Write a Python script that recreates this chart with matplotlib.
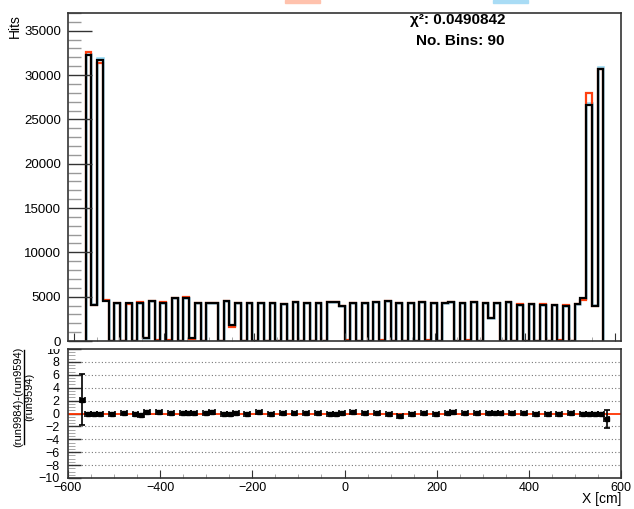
import matplotlib
matplotlib.use("Agg")
import matplotlib.pyplot as plt
import numpy as np
from matplotlib.patches import Rectangle
from matplotlib.transforms import Bbox

plt.rcParams["font.family"] = ["Liberation Sans", "DejaVu Sans"]

# 90 bins between -575 and 575 cm
n_bins = 90
x_low = -575.0
x_high = 575.0

hits_black = [
    32300, 4070, 31650, 4550, 0, 4250, 0, 4330, 0, 4330,
    300, 4520, 0, 4330, 0, 4820, 0, 4890, 380, 4330,
    0, 4330, 4330, 0, 4520, 1800, 4330, 0, 4330, 0,
    4320, 0, 4270, 0, 4220, 0, 4370, 0, 4320, 0,
    4270, 0, 4370, 4370, 3970, 0, 4320, 0, 4270, 0,
    4370, 0, 4480, 0, 4320, 0, 4270, 0, 4370, 0,
    4320, 0, 4270, 4370, 0, 4320, 0, 4370, 0, 4320,
    2640, 4320, 0, 4370, 0, 4070, 0, 4170, 0, 4070,
    0, 4070, 0, 3920, 0, 4170, 4820, 26650, 3990, 30680,
]

hits_red = [
    32550, 4020, 31350, 4570, 0, 4330, 0, 4140, 0, 4400,
    350, 4520, 150, 4380, 120, 4820, 0, 4920, 250, 4330,
    0, 4330, 4330, 0, 4520, 1545, 4330, 0, 4330, 0,
    4320, 0, 4270, 0, 4220, 0, 4370, 0, 4320, 0,
    4270, 0, 4370, 4370, 3970, 150, 4320, 0, 4270, 0,
    4370, 150, 4480, 0, 4320, 0, 4270, 0, 4370, 150,
    4320, 0, 4270, 4370, 0, 4320, 150, 4370, 0, 4320,
    2640, 4320, 0, 4370, 0, 4170, 0, 4170, 0, 4170,
    0, 4070, 150, 4020, 0, 4170, 4630, 28030, 3990, 30720,
]

hits_blue = [
    32400, 4120, 31900, 4570, 0, 4270, 0, 4330, 0, 4330,
    300, 4520, 0, 4330, 0, 4840, 0, 4890, 380, 4330,
    0, 4330, 4330, 0, 4520, 1820, 4330, 0, 4330, 0,
    4320, 0, 4270, 0, 4220, 0, 4370, 0, 4320, 0,
    4270, 0, 4370, 4370, 3970, 0, 4320, 0, 4270, 0,
    4370, 0, 4480, 0, 4320, 0, 4270, 0, 4370, 0,
    4320, 0, 4270, 4370, 0, 4320, 0, 4370, 0, 4320,
    2640, 4320, 0, 4370, 0, 4070, 0, 4170, 0, 4070,
    0, 4070, 0, 3920, 0, 4170, 4820, 26800, 4050, 30860,
]

# ratio (run9984-run9594)/run9594, NaN where undefined
ratio_vals = [
    2.1, 0.0, 0.0, 0.0, np.nan, 0.0, np.nan, 0.05, np.nan, 0.0,
    -0.2, 0.3, np.nan, 0.3, np.nan, 0.1, np.nan, 0.1, 0.1, 0.1,
    np.nan, 0.1, 0.3, np.nan, 0.0, 0.0, 0.15, np.nan, 0.0, np.nan,
    0.2, np.nan, 0.0, np.nan, 0.05, np.nan, 0.05, np.nan, 0.1, np.nan,
    0.1, np.nan, 0.0, 0.0, 0.1, np.nan, 0.2, np.nan, 0.15, np.nan,
    0.1, np.nan, -0.15, np.nan, -0.35, np.nan, 0.0, np.nan, 0.05, np.nan,
    0.0, np.nan, 0.05, 0.2, np.nan, 0.05, np.nan, 0.1, np.nan, 0.1,
    0.05, 0.1, np.nan, 0.15, np.nan, 0.05, np.nan, 0.0, np.nan, 0.0,
    np.nan, 0.0, np.nan, 0.05, np.nan, 0.0, 0.0, 0.0, 0.0, -0.9,
]
ratio_errs = [
    3.95, 0.05, 0.05, 0.05, np.nan, 0.05, np.nan, 0.05, np.nan, 0.05,
    0.2, 0.05, np.nan, 0.05, np.nan, 0.05, np.nan, 0.05, 0.1, 0.05,
    np.nan, 0.05, 0.05, np.nan, 0.05, 0.1, 0.05, np.nan, 0.05, np.nan,
    0.05, np.nan, 0.05, np.nan, 0.05, np.nan, 0.05, np.nan, 0.05, np.nan,
    0.05, np.nan, 0.05, 0.05, 0.05, np.nan, 0.05, np.nan, 0.05, np.nan,
    0.05, np.nan, 0.1, np.nan, 0.15, np.nan, 0.05, np.nan, 0.05, np.nan,
    0.05, np.nan, 0.05, 0.05, np.nan, 0.05, np.nan, 0.05, np.nan, 0.05,
    0.1, 0.05, np.nan, 0.05, np.nan, 0.05, np.nan, 0.05, np.nan, 0.05,
    np.nan, 0.05, np.nan, 0.05, np.nan, 0.05, 0.05, 0.05, 0.05, 1.4,
]

chi2_text = "\u03c7\u00b2: 0.0490842"
bins_text = "No. Bins: 90"

edges = np.linspace(x_low, x_high, n_bins + 1)
centers = 0.5 * (edges[:-1] + edges[1:])
half_w = 0.5 * (edges[1] - edges[0])

W, H = 634, 509
fig = plt.figure(figsize=(W / 100, H / 100), dpi=100)

main_ax = fig.add_axes([68 / W, 1 - 341 / H, 553 / W, 328 / H])
ratio_ax = fig.add_axes([68 / W, 1 - 478 / H, 553 / W, 129 / H])

frame_col = "#333333"

# main pad
main_ax.stairs(hits_blue, edges, baseline=0, color="#8fd6f2", linewidth=1.8)
main_ax.stairs(hits_red, edges, baseline=0, color="#ff4010", linewidth=1.6)
main_ax.stairs(hits_black, edges, baseline=0, color="black", linewidth=1.6)

main_ax.set_xlim(-614, 614)
main_ax.set_ylim(0, 37000)
main_ax.set_yticks(np.arange(0, 35001, 5000))
main_ax.set_yticks(np.arange(0, 37001, 1000), minor=True)
main_ax.set_xticks(np.arange(-600, 601, 200))
main_ax.set_xticks(np.arange(-600, 601, 50), minor=True)
main_ax.tick_params(axis="both", which="both", direction="in", labelsize=9.5,
                    top=False, right=False, color=frame_col)
main_ax.tick_params(axis="y", which="major", length=17, width=1)
main_ax.tick_params(axis="y", which="minor", length=9, width=1, color="#999999")
main_ax.tick_params(axis="x", which="major", length=6)
main_ax.tick_params(axis="x", which="minor", length=3, color="#999999")
main_ax.tick_params(axis="x", labelbottom=False)
main_ax.tick_params(axis="y", pad=5)
for sp in main_ax.spines.values():
    sp.set_color(frame_col)
    sp.set_linewidth(1.2)

fig.text(15 / W, 1 - 14 / H, "Hits", rotation=90, ha="center", va="top",
         fontsize=10)

fig.text(505 / W, 1 - 20 / H, chi2_text, ha="right", va="center",
         fontsize=11, fontweight="bold")
fig.text(505 / W, 1 - 41 / H, bins_text, ha="right", va="center",
         fontsize=11, fontweight="bold")

# legend markers peeking from above
fig.patches.append(Rectangle((285 / W, 1 - 3 / H), 35 / W, 3 / H,
                             transform=fig.transFigure, color="#ffc2ad"))
fig.patches.append(Rectangle((493 / W, 1 - 3 / H), 35 / W, 3 / H,
                             transform=fig.transFigure, color="#a9dcf5"))

# ratio pad
ratio_ax.axhline(0, color="#ff3300", linewidth=1.3, zorder=2)
for yv in np.arange(-8, 9, 2):
    if yv == 0:
        continue
    ratio_ax.axhline(yv, color="#777777", linestyle=(0, (1, 2)),
                     linewidth=0.8, zorder=1)

r = np.array(ratio_vals, dtype=float)
e = np.array(ratio_errs, dtype=float)
ok = ~np.isnan(r)
ratio_ax.errorbar(centers[ok], r[ok], xerr=half_w, yerr=e[ok], fmt="s",
                  color="black", markersize=2.5, elinewidth=1.2, capsize=2,
                  capthick=1.2, zorder=3)

ratio_ax.set_xlim(-600, 600)
ratio_ax.set_ylim(-10, 10)
ratio_ax.set_yticks(np.arange(-10, 11, 2))
ratio_ax.set_yticks(np.arange(-10, 10.1, 0.5), minor=True)
ratio_ax.set_xticks(np.arange(-600, 601, 200))
ratio_ax.set_xticks(np.arange(-600, 601, 50), minor=True)
ratio_ax.tick_params(axis="both", which="both", direction="in", labelsize=9,
                     top=False, right=False, color=frame_col)
ratio_ax.tick_params(axis="y", which="major", length=9, width=1)
ratio_ax.tick_params(axis="y", which="minor", length=5, color="#999999")
ratio_ax.tick_params(axis="x", which="major", length=6)
ratio_ax.tick_params(axis="x", which="minor", length=3, color="#999999")
ratio_ax.tick_params(axis="y", pad=6)
ratio_ax.tick_params(axis="x", pad=3)
ratio_ax.set_yticklabels([str(v).replace("-", "\u2212") for v in range(-10, 11, 2)])
for sp in ratio_ax.spines.values():
    sp.set_color(frame_col)
    sp.set_linewidth(1.2)

# top label of the ratio pad is cut by the pad edge
clip = Bbox.from_extents(0, 0, W, H - 349)
for lab in ratio_ax.get_yticklabels():
    lab.set_clip_box(clip)
    lab.set_clip_on(True)

fig.text(621 / W, 1 - 499 / H, "X [cm]", ha="right", va="center", fontsize=10)

# fraction-style y title
fig.text(18 / W, 1 - 397 / H, "(run9984)-(run9594)", rotation=90,
         ha="center", va="center", fontsize=8)
fig.text(29 / W, 1 - 397 / H, "(run9594)", rotation=90,
         ha="center", va="center", fontsize=8)
fig.add_artist(plt.Line2D([23.5 / W, 23.5 / W], [1 - 444 / H, 1 - 350 / H],
                          color="black", linewidth=1.0, transform=fig.transFigure))

fig.savefig("out.png", dpi=100)
